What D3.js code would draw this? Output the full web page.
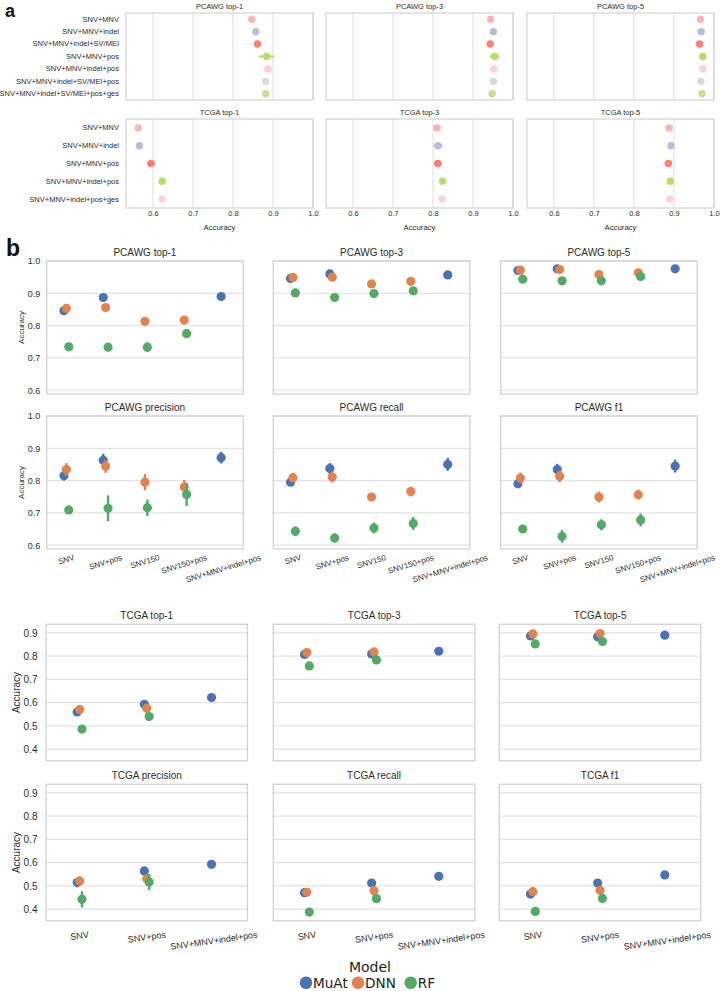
<!DOCTYPE html>
<html><head><meta charset="utf-8">
<script src="https://cdn.jsdelivr.net/npm/d3@7"></script>
<style>body{margin:0;background:#fff}svg{display:block}</style>
</head><body><svg id="c" width="720" height="991"></svg>
<script>
// ================= DATA =================
// ---- panel a ----
const aPcawgFeatures = ["SNV+MNV","SNV+MNV+indel","SNV+MNV+indel+SV/MEI","SNV+MNV+pos","SNV+MNV+indel+pos","SNV+MNV+indel+SV/MEI+pos","SNV+MNV+indel+SV/MEI+pos+ges"];
const aPcawgColors = ["#fbb4b4","#bebada","#fb8072","#b3de69","#fccde5","#d9d9d9","#d5d890"];
const aPcawgTitles = ["PCAWG top-1","PCAWG top-3","PCAWG top-5"];
const aPcawgTop1 = [0.847,0.857,0.861,0.884,0.887,0.882,0.882];
const aPcawgTop1Ci = [0.005,0.007,0.008,0.019,0.006,0.007,0.008];
const aPcawgTop3 = [0.944,0.951,0.943,0.954,0.952,0.951,0.948];
const aPcawgTop3Ci = [0.004,0.005,0.005,0.012,0.004,0.006,0.006];
const aPcawgTop5 = [0.966,0.968,0.964,0.972,0.972,0.967,0.970];
const aPcawgTop5Ci = [0.004,0.004,0.005,0.006,0.003,0.005,0.005];

const aTcgaFeatures = ["SNV+MNV","SNV+MNV+indel","SNV+MNV+pos","SNV+MNV+indel+pos","SNV+MNV+indel+pos+ges"];
const aTcgaColors = ["#fbb4b4","#bebada","#fb8072","#b3de69","#fccde5"];
const aTcgaTitles = ["TCGA top-1","TCGA top-3","TCGA top-5"];
const aTcgaTop1 = [0.563,0.566,0.595,0.623,0.623];
const aTcgaTop1Ci = [0.008,0.008,0.010,0.007,0.008];
const aTcgaTop3 = [0.810,0.8125,0.812,0.824,0.8225];
const aTcgaTop3Ci = [0.009,0.011,0.009,0.005,0.007];
const aTcgaTop5 = [0.8875,0.8925,0.886,0.891,0.889];
const aTcgaTop5Ci = [0.006,0.007,0.009,0.003,0.006];
const aXTicks = [0.6,0.7,0.8,0.9,1.0];

// ---- panel b ----
const models = ["MuAt","DNN","RF"];
const modelColors = ["#4c72b0","#dd8452","#55a868"];

const pcawgCats = ["SNV","SNV+pos","SNV150","SNV150+pos","SNV+MNV+indel+pos"];
const pcawgYTicks = [0.6,0.7,0.8,0.9,1.0];
const pcawgTitles = ["PCAWG top-1","PCAWG top-3","PCAWG top-5","PCAWG precision","PCAWG recall","PCAWG f1"];

const pcawgTop1MuAt = [0.846,0.887,null,null,0.890];
const pcawgTop1DNN  = [0.853,0.856,0.813,0.817,null];
const pcawgTop1RF   = [0.734,0.733,0.733,0.775,null];
const pcawgTop1MuAtErr = [0.006,0.008,null,null,0.007];
const pcawgTop1DNNErr  = [0.004,0.004,0.007,0.005,null];
const pcawgTop1RFErr   = [0.008,0.008,0.015,0.013,null];

const pcawgTop3MuAt = [0.946,0.960,null,null,0.957];
const pcawgTop3DNN  = [0.949,0.950,0.929,0.937,null];
const pcawgTop3RF   = [0.901,0.887,0.899,0.9075,null];
const pcawgTop3MuAtErr = [0.004,0.004,null,null,0.004];
const pcawgTop3DNNErr  = [0.003,0.003,0.003,0.003,null];
const pcawgTop3RFErr   = [0.004,0.004,0.004,0.004,null];

const pcawgTop5MuAt = [0.9705,0.9758,null,null,0.9758];
const pcawgTop5DNN  = [0.9717,0.9736,0.958,0.9634,null];
const pcawgTop5RF   = [0.9438,0.9385,0.9385,0.952,null];
const pcawgTop5MuAtErr = [0.003,0.003,null,null,0.003];
const pcawgTop5DNNErr  = [0.003,0.003,0.003,0.003,null];
const pcawgTop5RFErr   = [0.004,0.004,0.006,0.004,null];

const pcawgPrecMuAt = [0.815,0.863,null,null,0.871];
const pcawgPrecDNN  = [0.834,0.844,0.795,0.780,null];
const pcawgPrecRF   = [0.709,0.714,0.716,0.757,null];
const pcawgPrecMuAtErr = [0.015,0.020,null,null,0.018];
const pcawgPrecDNNErr  = [0.020,0.020,0.025,0.022,null];
const pcawgPrecRFErr   = [0.005,0.040,0.025,0.036,null];

const pcawgRecMuAt = [0.795,0.837,null,null,0.850];
const pcawgRecDNN  = [0.809,0.811,0.749,0.766,null];
const pcawgRecRF   = [0.643,0.622,0.653,0.667,null];
const pcawgRecMuAtErr = [0.010,0.017,null,null,0.020];
const pcawgRecDNNErr  = [0.015,0.017,0.012,0.015,null];
const pcawgRecRFErr   = [0.015,0.015,0.017,0.020,null];

const pcawgF1MuAt = [0.790,0.834,null,null,0.845];
const pcawgF1DNN  = [0.808,0.813,0.749,0.756,null];
const pcawgF1RF   = [0.650,0.627,0.663,0.678,null];
const pcawgF1MuAtErr = [0.010,0.018,null,null,0.020];
const pcawgF1DNNErr  = [0.017,0.018,0.017,0.015,null];
const pcawgF1RFErr   = [0.008,0.020,0.017,0.020,null];

const tcgaCats = ["SNV","SNV+pos","SNV+MNV+indel+pos"];
const tcgaYTicks = [0.4,0.5,0.6,0.7,0.8,0.9];
const tcgaTitles = ["TCGA top-1","TCGA top-3","TCGA top-5","TCGA precision","TCGA recall","TCGA f1"];

const tcgaTop1MuAt = [0.5595,0.593,0.6216];
const tcgaTop1DNN  = [0.570,0.5755,null];
const tcgaTop1RF   = [0.486,0.540,null];
const tcgaTop3MuAt = [0.807,0.8095,0.821];
const tcgaTop3DNN  = [0.8155,0.818,null];
const tcgaTop3RF   = [0.758,0.7836,null];
const tcgaTop5MuAt = [0.887,0.883,0.890];
const tcgaTop5DNN  = [0.8957,0.897,null];
const tcgaTop5RF   = [0.8526,0.863,null];
const tcgaPrecMuAt = [0.514,0.564,0.5927];
const tcgaPrecDNN  = [0.521,0.531,null];
const tcgaPrecRF   = [0.442,0.5165,null];
const tcgaRecMuAt  = [0.4707,0.512,0.541];
const tcgaRecDNN   = [0.472,0.479,null];
const tcgaRecRF    = [0.387,0.445,null];
const tcgaF1MuAt   = [0.4647,0.512,0.547];
const tcgaF1DNN    = [0.475,0.4806,null];
const tcgaF1RF     = [0.390,0.446,null];

const tcgaTopErrMuAt = [0.005,0.005,0.005];
const tcgaTopErrDNN  = [0.005,0.005,null];
const tcgaTopErrRF   = [0.005,0.006,null];
const tcgaPrecMuAtErr = [0.020,0.015,0.015];
const tcgaPrecDNNErr  = [0.012,0.015,null];
const tcgaPrecRFErr   = [0.035,0.035,null];
const tcgaRecMuAtErr  = [0.008,0.008,0.008];
const tcgaRecDNNErr   = [0.008,0.008,null];
const tcgaRecRFErr    = [0.005,0.007,null];

// ================= DRAWING =================
const svg = d3.select("#c");
const FONT = "'Liberation Sans', Arial, Helvetica, sans-serif";
const GRID = "#e3e3e3", SPINE = "#d2d2d2", TXT = "#2b2b2b";

function styleAxis(s, fs) {
  s.attr("font-family", FONT).attr("font-size", fs);
  s.select(".domain").remove();
  s.selectAll(".tick line").remove();
  s.selectAll("text").attr("fill", TXT);
}

// ---------- panel a ----------
const aXDomain = [0.5325, 1.0];
const aColX = [126, 326, 527], aW = 187;
const aRowY = [13, 119], aRowH = [87, 89];

function panelA(x0, y0, w, h, title, cats, colors, means, cis, showY, showX) {
  const g = svg.append("g");
  const x = d3.scaleLinear().domain(aXDomain).range([x0, x0 + w]);
  const y = d3.scaleBand().domain(cats).range([y0, y0 + h]);
  g.selectAll("line.grid").data(aXTicks).join("line").attr("class","grid")
    .attr("x1", d => x(d)).attr("x2", d => x(d)).attr("y1", y0).attr("y2", y0 + h)
    .attr("stroke", GRID).attr("stroke-width", 1.2);
  g.append("rect").attr("x", x0).attr("y", y0).attr("width", w).attr("height", h)
    .attr("fill", "none").attr("stroke", SPINE).attr("stroke-width", 1.2);
  g.append("text").attr("x", x0 + w / 2).attr("y", y0 - 4).attr("text-anchor", "middle")
    .attr("font-family", FONT).attr("font-size", 7.5).attr("fill", TXT).text(title);
  if (showY) {
    g.append("g").attr("transform", `translate(${x0},0)`)
      .call(d3.axisLeft(y).tickSize(0).tickPadding(7)).call(s => styleAxis(s, 7.5));
  }
  if (showX) {
    g.append("g").attr("transform", `translate(0,${y0 + h})`)
      .call(d3.axisBottom(x).tickValues(aXTicks).tickFormat(d3.format(".1f")).tickSize(0).tickPadding(3))
      .call(s => styleAxis(s, 7.5));
    g.append("text").attr("x", x0 + w / 2).attr("y", y0 + h + 21.5).attr("text-anchor", "middle")
      .attr("font-family", FONT).attr("font-size", 7.8).attr("fill", TXT).text("Accuracy");
  }
  const pts = cats.map((c, i) => ({ c, m: means[i], e: cis[i], col: colors[i] }));
  g.selectAll("line.err").data(pts).join("line").attr("class","err")
    .attr("x1", d => x(d.m - d.e)).attr("x2", d => x(d.m + d.e))
    .attr("y1", d => y(d.c) + y.bandwidth() / 2).attr("y2", d => y(d.c) + y.bandwidth() / 2)
    .attr("stroke", d => d.col).attr("stroke-width", 2.2);
  g.selectAll("circle").data(pts).join("circle")
    .attr("cx", d => x(d.m)).attr("cy", d => y(d.c) + y.bandwidth() / 2).attr("r", 3.7)
    .attr("fill", d => d.col);
}

const aPcawgMeans = [aPcawgTop1, aPcawgTop3, aPcawgTop5];
const aPcawgCis = [aPcawgTop1Ci, aPcawgTop3Ci, aPcawgTop5Ci];
const aTcgaMeans = [aTcgaTop1, aTcgaTop3, aTcgaTop5];
const aTcgaCis = [aTcgaTop1Ci, aTcgaTop3Ci, aTcgaTop5Ci];
for (let i = 0; i < 3; i++) {
  panelA(aColX[i], aRowY[0], aW, aRowH[0], aPcawgTitles[i], aPcawgFeatures, aPcawgColors, aPcawgMeans[i], aPcawgCis[i], i === 0, false);
  panelA(aColX[i], aRowY[1], aW, aRowH[1], aTcgaTitles[i], aTcgaFeatures, aTcgaColors, aTcgaMeans[i], aTcgaCis[i], i === 0, true);
}

// ---------- panel b ----------
function panelB(o) {
  const g = svg.append("g");
  const x = d3.scaleBand().domain(o.cats).range([o.x0, o.x0 + o.w]);
  const y = d3.scaleLinear().domain(o.yDomain).range([o.y0 + o.h, o.y0]);
  const dodge = d3.scalePoint().domain(models).range([-2.4, 2.4]);
  g.selectAll("line.grid").data(o.yTicks).join("line").attr("class","grid")
    .attr("x1", o.x0).attr("x2", o.x0 + o.w).attr("y1", d => y(d)).attr("y2", d => y(d))
    .attr("stroke", GRID).attr("stroke-width", 1.3);
  g.append("rect").attr("x", o.x0).attr("y", o.y0).attr("width", o.w).attr("height", o.h)
    .attr("fill", "none").attr("stroke", SPINE).attr("stroke-width", 1.3);
  g.append("text").attr("x", o.x0 + o.w / 2).attr("y", o.y0 - 5.5).attr("text-anchor", "middle")
    .attr("font-family", FONT).attr("font-size", 10).attr("fill", TXT).text(o.title);
  if (o.showY) {
    g.append("g").attr("transform", `translate(${o.x0},0)`)
      .call(d3.axisLeft(y).tickValues(o.yTicks).tickFormat(d3.format(".1f")).tickSize(0).tickPadding(o.yPad))
      .call(s => styleAxis(s, o.tickFs));
    g.append("text").attr("transform", `translate(${o.ylabX},${o.y0 + o.h / 2}) rotate(-90)`)
      .attr("text-anchor", "middle").attr("dy", "0.35em")
      .attr("font-family", FONT).attr("font-size", o.ylabFs).attr("fill", TXT).text("Accuracy");
  }
  if (o.showX) {
    const th = o.rot * Math.PI / 180, fs = o.xFs;
    g.append("g").attr("transform", `translate(0,${o.y0 + o.h})`)
      .call(d3.axisBottom(x).tickSize(0).tickPadding(0))
      .call(s => styleAxis(s, fs))
      .selectAll("text").attr("y", 0).attr("dy", "0.32em").attr("text-anchor", "middle")
      .attr("transform", function () {
        const w = this.getComputedTextLength();
        const half = (w * Math.sin(th) + fs * Math.cos(th)) / 2;
        return `translate(0,${o.xPad + half}) rotate(${-o.rot})`;
      });
  }
  models.forEach((m, k) => {
    const pts = o.cats.map((c, i) => ({ c, v: o.series[k][i], e: o.errs[k][i] })).filter(d => d.v != null);
    const cx = d => x(d.c) + x.bandwidth() / 2 + dodge(m);
    g.selectAll(`line.e${k}`).data(pts).join("line").attr("class", `e${k}`)
      .attr("x1", cx).attr("x2", cx).attr("y1", d => y(d.v - d.e)).attr("y2", d => y(d.v + d.e))
      .attr("stroke", modelColors[k]).attr("stroke-width", 2.4);
    g.selectAll(`circle.c${k}`).data(pts).join("circle").attr("class", `c${k}`)
      .attr("cx", cx).attr("cy", d => y(d.v)).attr("r", 4.6).attr("fill", modelColors[k]);
  });
}

const pcawgSeries = [
  [pcawgTop1MuAt, pcawgTop1DNN, pcawgTop1RF],
  [pcawgTop3MuAt, pcawgTop3DNN, pcawgTop3RF],
  [pcawgTop5MuAt, pcawgTop5DNN, pcawgTop5RF],
  [pcawgPrecMuAt, pcawgPrecDNN, pcawgPrecRF],
  [pcawgRecMuAt, pcawgRecDNN, pcawgRecRF],
  [pcawgF1MuAt, pcawgF1DNN, pcawgF1RF]];
const pcawgErrs = [
  [pcawgTop1MuAtErr, pcawgTop1DNNErr, pcawgTop1RFErr],
  [pcawgTop3MuAtErr, pcawgTop3DNNErr, pcawgTop3RFErr],
  [pcawgTop5MuAtErr, pcawgTop5DNNErr, pcawgTop5RFErr],
  [pcawgPrecMuAtErr, pcawgPrecDNNErr, pcawgPrecRFErr],
  [pcawgRecMuAtErr, pcawgRecDNNErr, pcawgRecRFErr],
  [pcawgF1MuAtErr, pcawgF1DNNErr, pcawgF1RFErr]];
const tcgaSeries = [
  [tcgaTop1MuAt, tcgaTop1DNN, tcgaTop1RF],
  [tcgaTop3MuAt, tcgaTop3DNN, tcgaTop3RF],
  [tcgaTop5MuAt, tcgaTop5DNN, tcgaTop5RF],
  [tcgaPrecMuAt, tcgaPrecDNN, tcgaPrecRF],
  [tcgaRecMuAt, tcgaRecDNN, tcgaRecRF],
  [tcgaF1MuAt, tcgaF1DNN, tcgaF1RF]];
const tcgaTopErr = [tcgaTopErrMuAt, tcgaTopErrDNN, tcgaTopErrRF];
const tcgaErrs = [tcgaTopErr, tcgaTopErr, tcgaTopErr,
  [tcgaPrecMuAtErr, tcgaPrecDNNErr, tcgaPrecRFErr],
  [tcgaRecMuAtErr, tcgaRecDNNErr, tcgaRecRFErr],
  [tcgaRecMuAtErr, tcgaRecDNNErr, tcgaRecRFErr]];

const pcawgColX = [46.7, 273.3, 500.7], pcawgW = 196.5, pcawgRowY = [261, 416], pcawgH = 133;
const tcgaColX = [46, 273.3, 499.3], tcgaW = 201.5, tcgaRowY = [624.3, 784.3], tcgaH = 136.4;

for (let i = 0; i < 6; i++) {
  const c = i % 3, r = Math.floor(i / 3);
  panelB({ x0: pcawgColX[c], y0: pcawgRowY[r], w: pcawgW, h: pcawgH, title: pcawgTitles[i],
    cats: pcawgCats, yDomain: [0.588, 1.0], yTicks: pcawgYTicks,
    series: pcawgSeries[i], errs: pcawgErrs[i], showY: c === 0, showX: r === 1,
    tickFs: 9, yPad: 6.5, ylabX: 21.5, ylabFs: 8, rot: 17, xFs: 8, xPad: 4.5 });
  panelB({ x0: tcgaColX[c], y0: tcgaRowY[r], w: tcgaW, h: tcgaH, title: tcgaTitles[i],
    cats: tcgaCats, yDomain: [0.35, 0.937], yTicks: tcgaYTicks,
    series: tcgaSeries[i], errs: tcgaErrs[i], showY: c === 0, showX: r === 1,
    tickFs: 10, yPad: 8.5, ylabX: 16.5, ylabFs: 10, rot: 8, xFs: 9, xPad: 9.5 });
}

// panel letters
svg.append("text").attr("x", 5).attr("y", 17).attr("font-family", FONT).attr("font-weight", "bold")
  .attr("font-size", 18).attr("fill", "#111").text("a");
svg.append("text").attr("x", 6).attr("y", 256).attr("font-family", FONT).attr("font-weight", "bold")
  .attr("font-size", 23).attr("fill", "#111").text("b");

// legend
const LF = "'DejaVu Sans', Verdana, sans-serif";
const legX = [306, 358, 410.7], legY = 982.7;
svg.append("text").attr("x", 370).attr("y", 971.5).attr("text-anchor", "middle")
  .attr("font-family", LF).attr("font-size", 14).attr("fill", "#222").text("Model");
const lg = svg.append("g");
models.forEach((m, k) => {
  lg.append("circle").attr("cx", legX[k]).attr("cy", legY).attr("r", 6.3).attr("fill", modelColors[k]);
  lg.append("text").attr("x", legX[k] + 7).attr("y", legY + 4.8).attr("font-family", LF)
    .attr("font-size", 13.6).attr("fill", "#222").text(m);
});
</script>
</body></html>
